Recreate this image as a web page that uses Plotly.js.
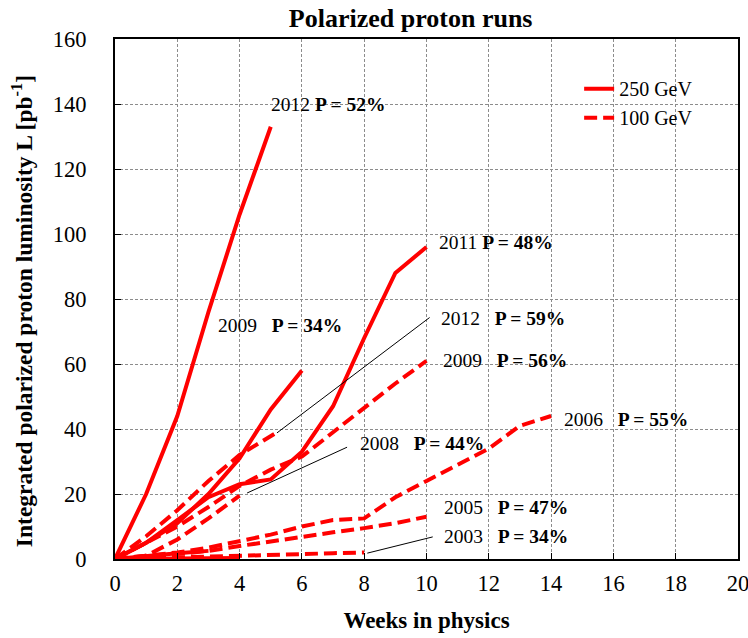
<!DOCTYPE html>
<html><head><meta charset="utf-8">
<script src="https://cdn.plot.ly/plotly-3.0.1.min.js"></script>
<style>html,body{margin:0;padding:0;background:#fff;}#chart{width:748px;height:638px;}</style>
</head><body><div id="chart"></div>
<script>
// 250 GeV runs (solid)
const run2012_250_weeks = [0, 1, 2, 3, 4, 5];
const run2012_250_lumi  = [0, 20, 44, 76, 106, 133];
const run2011_250_weeks = [0, 1, 2, 3, 4, 5, 6, 7, 8, 9, 10];
const run2011_250_lumi  = [0, 5, 12, 19, 23, 24.5, 33, 47, 68, 88, 96];
const run2009_250_weeks = [0, 1, 2, 3, 4, 5, 6];
const run2009_250_lumi  = [0, 5, 11, 20, 31, 46, 58];
const runLow_250_weeks  = [0, 1, 2, 3];
const runLow_250_lumi   = [0, 1, 1.8, 2.5];
const runZero_250_weeks = [0, 2, 4];
const runZero_250_lumi  = [0, 0.2, 0.3];
// 100 GeV runs (dashed)
const run2012_100_weeks = [0, 1, 2, 3, 4, 5.2];
const run2012_100_lumi  = [0, 7, 15, 24, 32, 39];
const run2009_100_weeks = [0, 1, 2, 3, 4, 5, 6, 7, 8, 9, 10];
const run2009_100_lumi  = [0, 5, 10, 16, 22.5, 27.5, 31.5, 39, 46.5, 54, 61];
const run2008_100_weeks = [0, 1, 2, 3, 4];
const run2008_100_lumi  = [0, 1, 6, 12.5, 19.5];
const run2006_100_weeks = [0, 1, 2, 3, 4, 5, 6, 7, 8, 9, 10, 11, 12, 13, 14];
const run2006_100_lumi  = [0, 1, 2, 3.5, 5.5, 7.5, 10, 12, 12.5, 19, 24, 29, 34, 41, 44];
const run2005_100_weeks = [0, 1, 2, 3, 4, 5, 6, 7, 8, 9, 10];
const run2005_100_lumi  = [0, 0.5, 1.5, 2.5, 4, 5.5, 7, 8.2, 9.5, 11, 13];
const run2003_100_weeks = [0, 2, 4, 6, 7, 8];
const run2003_100_lumi  = [0, 0.5, 0.7, 1.5, 1.8, 2];

const legendNames = ['250 GeV', '100 GeV'];
const xTicks = [0, 2, 4, 6, 8, 10, 12, 14, 16, 18, 20];
const yTicks = [0, 20, 40, 60, 80, 100, 120, 140, 160];

const labelYears = ['2012', '2011', '2012', '2009', '2009', '2006', '2008', '2005', '2003'];
const labelPols  = ['P = 52%', 'P = 48%', 'P = 59%', 'P = 34%', 'P = 56%', 'P = 55%', 'P = 44%', 'P = 47%', 'P = 34%'];

const FONT = 'Liberation Serif, Times New Roman, serif';
const RED = '#ff0000';
const solid = {color: RED, width: 4};
const dashed = {color: RED, width: 4, dash: '13px,6px'};

function tr(x, y, line) {
  return {x: x, y: y, type: 'scatter', mode: 'lines', line: line, showlegend: false, hoverinfo: 'skip'};
}
const traces = [
  tr(runZero_250_weeks, runZero_250_lumi, solid),
  tr(runLow_250_weeks, runLow_250_lumi, solid),
  tr(run2003_100_weeks, run2003_100_lumi, dashed),
  tr(run2005_100_weeks, run2005_100_lumi, dashed),
  tr(run2006_100_weeks, run2006_100_lumi, dashed),
  tr(run2008_100_weeks, run2008_100_lumi, dashed),
  tr(run2009_100_weeks, run2009_100_lumi, dashed),
  tr(run2012_100_weeks, run2012_100_lumi, dashed),
  tr(run2009_250_weeks, run2009_250_lumi, solid),
  tr(run2011_250_weeks, run2011_250_lumi, solid),
  tr(run2012_250_weeks, run2012_250_lumi, solid),
  {x: [null], y: [null], type: 'scatter', mode: 'lines', line: solid, name: legendNames[0], showlegend: true},
  {x: [null], y: [null], type: 'scatter', mode: 'lines', line: dashed, name: legendNames[1], showlegend: true}
];

const labelPos = [
  [4.95, 140], [10.35, 97.5], [10.4, 74], [3.25, 71.7], [10.45, 61.2],
  [14.35, 43], [7.8, 35.4], [10.5, 15.7], [10.5, 6.8]
];
const gaps = ['', '', '&nbsp;&nbsp;', '&nbsp;&nbsp;', '&nbsp;&nbsp;', '&nbsp;&nbsp;', '&nbsp;&nbsp;', '&nbsp;&nbsp;', '&nbsp;&nbsp;'];
const annotations = labelYears.map((yr, i) => ({
  x: labelPos[i][0], y: labelPos[i][1], xref: 'x', yref: 'y',
  text: yr + ' ' + gaps[i] + '<b>' + labelPols[i] + '</b>',
  showarrow: false, xanchor: 'left', yanchor: 'middle',
  font: {family: FONT, size: 19.5, color: '#000'}
}));
annotations.push({
  xref: 'paper', yref: 'paper', x: -0.149, y: 0.477, xanchor: 'center', yanchor: 'middle',
  textangle: -90, showarrow: false,
  text: '<b>Integrated polarized proton luminosity L [pb<sup>-1</sup>]</b>',
  font: {family: FONT, size: 23.5, color: '#000'}
});

const leader = (x0, y0, x1, y1) => ({type: 'line', xref: 'x', yref: 'y', x0: x0, y0: y0, x1: x1, y1: y1, line: {color: '#000', width: 1}});
const shapes = [
  leader(10.1, 74.3, 5.2, 38.8),
  leader(7.45, 34.4, 4.24, 20.3),
  leader(10.2, 6.8, 8.1, 1.8)
];

const layout = {
  width: 748, height: 638,
  margin: {l: 115, r: 10, t: 39, b: 79},
  paper_bgcolor: '#fff', plot_bgcolor: '#fff',
  font: {family: FONT, color: '#000'},
  title: {text: '<b>Polarized proton runs</b>', x: 0.549, xanchor: 'center', y: 0.972, yanchor: 'middle',
          font: {size: 26, family: FONT}},
  xaxis: {range: [0, 20], tickvals: xTicks, ticktext: xTicks.map(String), showgrid: true,
          gridcolor: '#8c8c8c', griddash: '3px,2px', gridwidth: 1, zeroline: false,
          showline: true, linecolor: '#000', linewidth: 2, mirror: true,
          ticks: 'inside', ticklen: 6, tickcolor: '#000', tickfont: {size: 22.5},
          ticklabelstandoff: 3, ticklabeloverflow: 'allow',
          title: {text: '<b>Weeks in physics</b>', font: {size: 23}, standoff: 17}},
  yaxis: {range: [0, 160], tickvals: yTicks, ticktext: yTicks.map(String), showgrid: true,
          gridcolor: '#8c8c8c', griddash: '3px,2px', gridwidth: 1, zeroline: false,
          showline: true, linecolor: '#000', linewidth: 2, mirror: true,
          ticks: 'inside', ticklen: 6, tickcolor: '#000', tickfont: {size: 22.5},
          ticklabelstandoff: 22, ticklabeloverflow: 'allow'},
  legend: {x: 0.745, y: 0.942, xanchor: 'left', yanchor: 'top', bgcolor: 'rgba(255,255,255,0)',
           borderwidth: 0, font: {size: 20}},
  annotations: annotations,
  shapes: shapes
};
Plotly.newPlot('chart', traces, layout, {staticPlot: true});
</script>
</body></html>
